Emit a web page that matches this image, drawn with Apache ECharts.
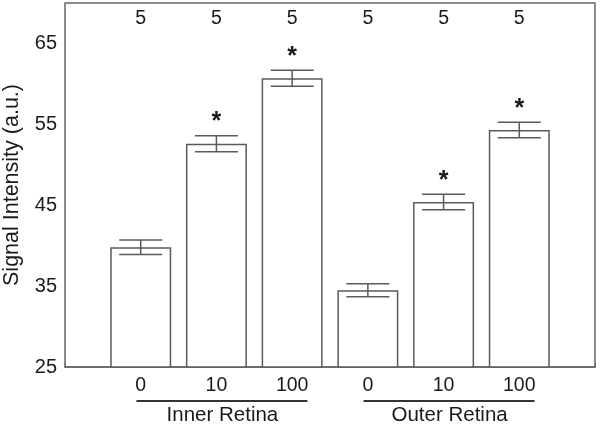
<!DOCTYPE html>
<html>
<head>
<meta charset="utf-8">
<script src="https://cdn.jsdelivr.net/npm/echarts@6/dist/echarts.min.js"></script>
<style>
html, body { margin: 0; padding: 0; background: #fff; }
#main { width: 600px; height: 427px; }
</style>
</head>
<body>
<div id="main"></div>
<script>
// dose labels per bar, and the two retina groups
var doses = ['0', '10', '100', '0', '10', '100'];
var groups = ['Inner Retina', 'Outer Retina'];
var means = [39.8, 52.6, 60.7, 34.5, 45.4, 54.3];
var errs = [0.9, 1.0, 1.0, 0.8, 0.95, 0.95];
var stars = [false, true, true, false, true, true];
var nCounts = ['5', '5', '5', '5', '5', '5'];
var yTicks = [25, 35, 45, 55, 65];

var lineColor = '#5a5a5a';
var textColor = '#1a1a1a';
var font = 'Liberation Sans, Arial, sans-serif';

// pad one empty slot each side so bars sit at 1..6 on a 0..7 range
var xData = [''].concat(doses, ['']);
var nData = [''].concat(nCounts, ['']);
var barData = [null].concat(means, [null]);

var errData = means.map(function (m, i) {
    return [i + 1, m, errs[i], stars[i] ? 1 : 0];
});

var myChart = echarts.init(document.getElementById('main'));

var option = {
    animation: false,
    backgroundColor: '#fff',
    grid: {
        left: 65, right: 5, top: 3, bottom: 60,
        outerBoundsMode: 'none',
        containLabel: false,
        show: true,
        borderColor: '#666',
        borderWidth: 1.5,
        backgroundColor: 'transparent'
    },
    xAxis: [{
        type: 'category',
        data: xData,
        boundaryGap: false,
        axisLine: { lineStyle: { color: '#666', width: 1.5 } },
        axisTick: { inside: true, length: 4, lineStyle: { color: '#666' } },
        axisLabel: {
            margin: 9,
            fontSize: 19.5,
            fontFamily: font,
            color: textColor,
            interval: 0
        }
    }, {
        type: 'category',
        data: nData,
        position: 'top',
        boundaryGap: false,
        axisLine: { show: false },
        axisTick: { show: false },
        axisLabel: {
            inside: true,
            margin: 6,
            fontSize: 19.5,
            fontFamily: font,
            color: textColor,
            interval: 0
        }
    }],
    yAxis: {
        type: 'value',
        min: 25,
        max: 70,
        interval: 5,
        name: 'Signal Intensity (a.u.)',
        nameLocation: 'middle',
        nameGap: 42,
        nameTextStyle: { fontSize: 21.5, fontFamily: font, color: textColor },
        splitLine: { show: false },
        axisLine: { lineStyle: { color: '#666', width: 1.5 } },
        axisTick: { inside: true, length: 5, lineStyle: { color: '#666' } },
        axisLabel: {
            fontSize: 20,
            fontFamily: font,
            color: textColor,
            margin: 8,
            formatter: function (v) {
                return yTicks.indexOf(v) >= 0 ? String(v) : '';
            }
        }
    },
    series: [{
        type: 'bar',
        data: barData,
        barWidth: 61,
        clip: true,
        itemStyle: { color: '#fff', borderColor: lineColor, borderWidth: 1.5 }
    }, {
        type: 'custom',
        data: errData,
        z: 5,
        clip: false,
        renderItem: function (params, api) {
            var x = api.value(0), m = api.value(1), e = api.value(2);
            var top = api.coord([x, m + e]);
            var bot = api.coord([x, m - e]);
            var hw = 21.5;
            var st = { stroke: lineColor, lineWidth: 1.5 };
            var kids = [
                { type: 'line', shape: { x1: top[0], y1: top[1], x2: bot[0], y2: bot[1] }, style: st },
                { type: 'line', shape: { x1: top[0] - hw, y1: top[1], x2: top[0] + hw, y2: top[1] }, style: st },
                { type: 'line', shape: { x1: bot[0] - hw, y1: bot[1], x2: bot[0] + hw, y2: bot[1] }, style: st }
            ];
            if (api.value(3)) {
                kids.push({
                    type: 'text',
                    style: {
                        x: top[0], y: top[1] - 1,
                        text: '*',
                        fontSize: 25,
                        fontWeight: 'bold',
                        fontFamily: font,
                        fill: textColor,
                        align: 'center',
                        verticalAlign: 'bottom'
                    }
                });
            }
            return { type: 'group', children: kids };
        }
    }]
};

myChart.setOption(option);

// group brackets under the dose labels, centred on each group's middle bar
var gfx = [];
groups.forEach(function (g, i) {
    var c = myChart.convertToPixel({ xAxisIndex: 0 }, i * 3 + 2);
    gfx.push({
        type: 'line',
        shape: { x1: c - 80, y1: 401, x2: c + 91, y2: 401 },
        style: { stroke: '#333', lineWidth: 2 }
    });
    gfx.push({
        type: 'text',
        style: {
            x: c + 6, y: 415,
            text: g,
            fontSize: 20.5,
            fontFamily: font,
            fill: textColor,
            align: 'center',
            verticalAlign: 'middle'
        }
    });
});
myChart.setOption({ graphic: gfx });
</script>
</body>
</html>
